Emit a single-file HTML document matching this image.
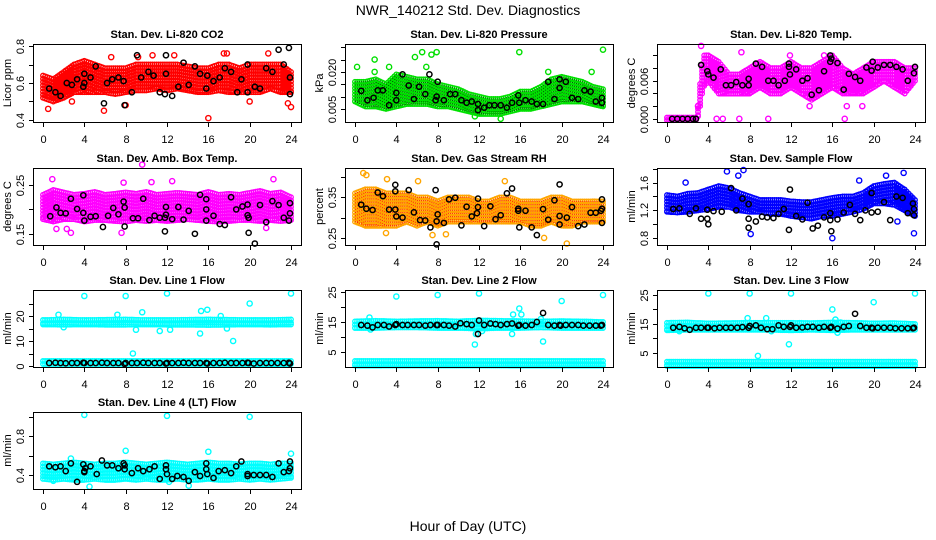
<!DOCTYPE html>
<html><head><meta charset="utf-8"><title>NWR_140212 Std. Dev. Diagnostics</title>
<style>
html,body{margin:0;padding:0;background:#fff;}
svg{display:block;font-family:"Liberation Sans",Arial,sans-serif;}
</style></head>
<body>
<svg id="chart" width="936" height="540" viewBox="0 0 936 540" xmlns="http://www.w3.org/2000/svg">
<rect width="936" height="540" fill="#fff"/>
<text x="468" y="15" text-anchor="middle" font-size="14">NWR_140212  Std. Dev. Diagnostics</text>
<text x="468" y="531" text-anchor="middle" font-size="14">Hour of Day (UTC)</text>
</svg>
<script>
// ---------- data ----------
const xTicks = [0,4,8,12,16,20,24];

// CO2
const co2Hours = [0,1,2,3,4,5,6,7,8,9,10,11,12,13,14,15,16,17,18,19,20,21,22,23,24];
const co2Lo = [0.52,0.50,0.52,0.55,0.55,0.55,0.55,0.54,0.55,0.56,0.56,0.57,0.56,0.57,0.56,0.55,0.55,0.56,0.55,0.55,0.55,0.55,0.57,0.55,0.55];
const co2Hi = [0.64,0.62,0.66,0.70,0.72,0.70,0.68,0.68,0.68,0.70,0.70,0.70,0.70,0.70,0.69,0.68,0.68,0.70,0.70,0.68,0.70,0.70,0.70,0.70,0.66];
const co2OutX = [0.5,5.9,8,16,24,23.7,6.6,9.2,10.6,12.7,17.5,17.8,21.8,2.8,20];
const co2OutY = [0.46,0.45,0.48,0.41,0.47,0.49,0.74,0.74,0.75,0.75,0.76,0.76,0.76,0.50,0.50];
const co2BlkX = [0.6,1.2,1.7,2.3,2.8,3.3,3.9,4,4,5.1,4.6,5.9,6.2,6.7,7.3,7.8,7.9,8.6,9.1,9.5,10.2,10.7,11.3,11.8,11.9,11.9,12.5,13.1,13.6,14.1,14.7,15.2,15.8,15.9,16.5,17.1,17.6,18.2,18.8,19.2,19.8,19.8,20.5,21,21.6,22.2,22.8,23.3,23.8,23.9,23.9];
const co2BlkY = [0.57,0.55,0.53,0.60,0.59,0.62,0.58,0.65,0.60,0.69,0.63,0.49,0.60,0.62,0.63,0.61,0.48,0.55,0.75,0.63,0.66,0.64,0.55,0.54,0.65,0.75,0.53,0.58,0.71,0.59,0.69,0.65,0.57,0.64,0.61,0.63,0.68,0.66,0.55,0.62,0.55,0.70,0.58,0.57,0.68,0.66,0.78,0.70,0.79,0.63,0.54];

// Pressure
const prHours = [0,1,2,3,4,5,6,7,8,9,10,11,12,13,14,15,16,17,18,19,20,21,22,23,24];
const prLo = [0.008,0.006,0.006,0.005,0.006,0.007,0.007,0.007,0.006,0.006,0.005,0.004,0.003,0.003,0.003,0.004,0.005,0.005,0.006,0.007,0.008,0.008,0.008,0.007,0.006];
const prHi = [0.016,0.016,0.017,0.015,0.019,0.018,0.017,0.017,0.015,0.014,0.013,0.011,0.010,0.009,0.009,0.010,0.012,0.012,0.014,0.017,0.018,0.017,0.016,0.014,0.013];
const prOutX = [0.2,1.9,3.3,5.8,6.5,7.4,7.9,15.9,24,14.1,11.6,18.7,22.9,6.9,1.9];
const prOutY = [0.022,0.025,0.022,0.026,0.028,0.027,0.028,0.028,0.029,0.001,0.002,0.020,0.020,0.022,0.020];
const prBlkX = [0.6,1.2,1.8,2.2,2.7,3.3,4,4,4.6,5.2,5.7,6.2,6.8,7.2,7.8,7.9,8,8.6,9.2,9.7,10.3,10.8,11.3,11.9,11.9,12.5,13,13.5,14.1,14.7,15.2,15.8,15.9,16.5,17.1,17.6,18.2,18.7,19.3,19.8,19.8,20.4,21,21.6,22.2,22.8,23.3,23.9,23.9];
const prBlkY = [0.0123,0.0085,0.0095,0.0125,0.0125,0.0065,0.0115,0.0085,0.019,0.0145,0.009,0.014,0.011,0.019,0.0085,0.010,0.016,0.0085,0.011,0.011,0.0085,0.0075,0.008,0.007,0.0045,0.0055,0.0065,0.0065,0.0065,0.0055,0.0075,0.0105,0.0075,0.0085,0.008,0.007,0.007,0.016,0.009,0.0135,0.017,0.016,0.0095,0.009,0.0125,0.012,0.008,0.0075,0.0095];

// Li-820 Temp
const ltHours = [0,2.9,3.1,3.5,4,5,6,7,8,9,10,11,12,13,14,15,16,17,18,19,20,21,22,23,24];
const ltLo = [-0.0002,-0.0002,0.001,0.005,0.006,0.004,0.004,0.004,0.004,0.005,0.004,0.004,0.005,0.004,0.003,0.004,0.005,0.004,0.004,0.004,0.005,0.006,0.005,0.004,0.006];
const ltHi = [0.0002,0.0002,0.004,0.010,0.010,0.009,0.007,0.007,0.008,0.009,0.008,0.008,0.009,0.008,0.008,0.009,0.010,0.008,0.007,0.008,0.009,0.009,0.009,0.008,0.008];
const ltOutX = [3.3,7.2,11.9,15.2,4.8,5.4,7,9.8,17.2,3.0,13.8,17.4,18.9];
const ltOutY = [0.0115,0.0105,0.0100,0.0100,0,0,0,0,0,0.002,0.002,0.002,0.002];
const ltBlkX = [0.5,1,1.5,2,2.5,2.8,3.3,3.9,4,4.5,5.2,5.7,6.2,6.7,7.3,7.9,7.9,8.6,9.2,9.8,10.3,10.8,11.4,11.8,11.9,11.8,12.5,13.1,13.6,14,14.7,15.2,15.8,15.9,15.8,16.5,17.1,17.6,18.2,18.7,19.3,19.8,19.9,20.4,21,21.6,22.2,22.8,23.3,23.9,24];
const ltBlkY = [0,0,0,0,0,0,0.0085,0.0075,0.007,0.0065,0.0078,0.0053,0.0053,0.0058,0.0053,0.0063,0.0053,0.0087,0.0082,0.006,0.006,0.0053,0.006,0.0087,0.0070,0.0082,0.0078,0.006,0.0064,0.0038,0.0045,0.0075,0.010,0.0095,0.009,0.0088,0.0046,0.0071,0.0066,0.0060,0.0081,0.0076,0.0090,0.0081,0.0085,0.0085,0.0082,0.0078,0.006,0.0072,0.0082];

// Amb Box Temp
const abHours = [0,1,2,3,4,5,6,7,8,9,10,11,12,13,14,15,16,17,18,19,20,21,22,23,24];
const abLo = [0.180,0.175,0.180,0.180,0.175,0.178,0.178,0.176,0.175,0.178,0.176,0.178,0.176,0.178,0.180,0.178,0.176,0.175,0.176,0.178,0.178,0.176,0.178,0.176,0.178];
const abHi = [0.230,0.240,0.235,0.230,0.232,0.236,0.230,0.232,0.235,0.232,0.236,0.230,0.232,0.234,0.232,0.230,0.236,0.230,0.232,0.230,0.234,0.238,0.232,0.235,0.225];
const abOutX = [0.9,9.6,12.5,22.3,1.3,2.3,2.7,7.6,21.6,7.8,10.5];
const abOutY = [0.262,0.292,0.258,0.262,0.160,0.160,0.152,0.152,0.162,0.255,0.256];
const abBlkX = [0.7,1.3,1.7,2.2,2.7,3.3,3.9,3.9,4,4.6,5.1,5.8,6.3,6.8,7.3,7.8,7.9,7.9,8.7,9.2,9.7,10.3,10.8,11.3,11.8,11.8,11.9,11.9,12.5,13.1,13.6,14.1,14.7,15.2,15.8,15.8,15.8,16.5,17.1,17.6,18.2,18.7,19.3,19.8,19.8,19.9,19.9,20.5,21,21.6,22.2,22.8,23.3,23.8,23.9,23.9];
const abBlkY = [0.186,0.204,0.193,0.192,0.222,0.201,0.229,0.193,0.177,0.185,0.186,0.164,0.187,0.203,0.190,0.216,0.165,0.204,0.182,0.182,0.222,0.178,0.187,0.183,0.155,0.183,0.189,0.205,0.180,0.205,0.179,0.197,0.150,0.230,0.221,0.200,0.177,0.187,0.170,0.168,0.225,0.200,0.206,0.210,0.188,0.152,0.183,0.130,0.209,0.174,0.217,0.209,0.183,0.177,0.213,0.192];

// Gas Stream RH
const rhHours = [0,1,2,3,4,5,6,7,8,9,10,11,12,13,14,15,16,17,18,19,20,21,22,23,24];
const rhLo = [0.29,0.28,0.28,0.28,0.28,0.29,0.28,0.29,0.28,0.29,0.29,0.29,0.29,0.29,0.29,0.29,0.29,0.28,0.28,0.29,0.28,0.28,0.29,0.29,0.29];
const rhHi = [0.36,0.37,0.37,0.36,0.36,0.36,0.35,0.35,0.34,0.35,0.35,0.35,0.34,0.34,0.35,0.35,0.34,0.34,0.34,0.35,0.35,0.34,0.34,0.34,0.34];
const rhOutX = [0.8,1.1,3.1,3.0,7.5,8.8,14.5,18.3,20.5,6.1];
const rhOutY = [0.410,0.405,0.395,0.262,0.257,0.259,0.390,0.250,0.236,0.390];
const rhBlkX = [0.6,1.1,1.7,2.2,2.7,3.3,3.9,3.9,3.9,4,4.6,5.2,5.7,6.3,6.8,7.3,7.8,7.9,8,7.9,8.6,9.1,9.7,10.3,10.8,11.3,11.8,11.9,11.9,12.5,13.1,13.6,14.1,14.7,15.2,15.8,15.8,15.9,16.5,17.1,17.6,18.2,18.7,19.3,19.8,19.8,19.8,20.5,21,21.6,22.2,22.8,23.3,23.8,23.9,23.9,23.9];
const rhBlkY = [0.332,0.322,0.319,0.362,0.353,0.320,0.381,0.365,0.320,0.303,0.300,0.368,0.313,0.294,0.293,0.276,0.368,0.291,0.308,0.234,0.287,0.345,0.349,0.281,0.327,0.303,0.311,0.326,0.347,0.279,0.328,0.296,0.306,0.360,0.372,0.322,0.317,0.276,0.317,0.276,0.257,0.321,0.295,0.343,0.304,0.382,0.283,0.300,0.326,0.279,0.283,0.312,0.312,0.317,0.322,0.345,0.287];

// Sample Flow
const sfHours = [0,1,2,3,4,5,6,7,8,9,10,11,12,13,14,15,16,17,18,19,20,21,22,23,24];
const sfLo = [1.18,1.17,1.18,1.20,1.22,1.25,1.25,1.20,1.18,1.18,1.15,1.15,1.12,1.10,1.08,1.12,1.12,1.15,1.18,1.22,1.30,1.30,1.28,1.20,1.12];
const sfHi = [1.42,1.40,1.44,1.45,1.50,1.55,1.52,1.45,1.40,1.35,1.35,1.35,1.33,1.32,1.32,1.35,1.38,1.40,1.40,1.45,1.55,1.58,1.60,1.50,1.35];
const sfOutX = [5.8,6.9,7.4,21.2,22.9,8.1,16,23.9,22.3,1.8,18.6];
const sfOutY = [1.76,1.70,1.78,1.70,1.74,0.86,0.80,0.87,1.04,1.60,1.63];
const sfBlkX = [0.6,1.2,2.2,2.8,3.3,3.9,3.9,4,4.5,5.3,6.2,6.7,7.3,7.9,7.9,7.9,8.6,9.2,9.7,10.3,10.8,11.3,11.8,11.9,12.5,13.1,13.6,14.1,14.6,15.2,15.8,15.8,15.9,16.5,17.1,17.7,18.2,18.7,19.2,19.8,19.8,20.4,21,21.6,22.2,22.8,23.3,23.8,23.9,23.9];
const sfBlkY = [1.22,1.23,1.15,1.23,1.08,1.08,1.21,1.00,1.19,1.18,1.52,1.20,1.37,1.08,0.95,1.29,1.04,1.11,1.10,1.09,1.15,1.22,0.92,1.50,1.12,1.07,1.31,0.94,0.98,1.10,1.16,1.06,0.90,1.07,1.17,1.28,1.15,1.06,1.20,1.45,1.17,1.18,1.32,1.06,1.40,1.38,1.16,1.30,1.22,1.13];

// Line flows (shared hours for bands and black points)
const lfHours = [0,2,4,6,8,10,12,14,16,18,20,22,24];
const lineBlkX = [0.6,1.2,1.7,2.2,2.8,3.3,3.9,4,4.6,5.1,5.7,6.2,6.8,7.3,7.9,8,8.6,9.1,9.7,10.2,10.8,11.3,11.9,12,12.5,13.1,13.6,14.1,14.7,15.2,15.8,15.9,16.5,17.1,17.6,18.2,18.7,19.3,19.8,19.9,20.4,21,21.6,22.1,22.7,23.3,23.8,23.9];

// Line 1
const l1UpLo = [16.6,16.5,16.6,16.5,16.5,16.6,16.5,16.5,16.4,16.5,16.6,16.5,16.6];
const l1UpHi = [18.4,18.6,18.4,18.5,18.6,18.4,18.4,18.5,18.6,18.5,18.4,18.4,18.6];
const l1DnLo = [0.8,0.8,0.8,0.8,0.8,0.8,0.8,0.8,0.8,0.8,0.8,0.8,0.8];
const l1DnHi = [2.0,2.0,2.0,2.0,2.0,2.0,2.0,2.0,2.0,2.0,2.0,2.0,2.0];
const l1OutX = [4,8,12,24,20,15.3,15.9,9.6,7.2,1.5,17.2,18.4,8.7,9,11.3,12.3,15.2,17.8,2];
const l1OutY = [28,28,29,29,25,22,22.5,21.5,20.5,20.5,20,10,5,14.5,14,14.5,13,15,15.5];
const l1BlkY = [1.2,1.3,1.2,1.1,1.2,1.2,1.3,1.2,1.2,1.2,1.3,1.2,1.2,1.2,0.8,1.2,1.2,1.2,1.3,1.2,1.2,1.2,1.0,1.2,1.2,1.2,1.3,1.2,1.2,1.2,1.2,1.0,1.2,1.2,1.3,1.2,1.2,1.2,1.3,1.2,1.0,1.2,1.2,1.2,1.2,1.2,1.3,1.0];

// Line 2
const l2UpLo = [13.0,13.0,13.2,13.2,13.0,13.0,12.8,13.0,13.0,13.2,13.0,13.0,13.0];
const l2UpHi = [15.2,15.4,15.2,15.3,15.4,15.2,15.5,15.4,15.3,15.2,15.3,15.2,15.0];
const l2DnLo = [0.5,0.5,0.5,0.5,0.5,0.5,0.5,0.5,0.5,0.5,0.5,0.5,0.5];
const l2DnHi = [2.0,2.0,2.0,2.0,2.0,2.0,2.0,2.0,2.0,2.0,2.0,2.0,2.0];
const l2OutX = [4,8,12,24,20,1.4,15.9,16.1,15.3,11.6,15.2,18.2,11.7,12.3,1.5,18.0];
const l2OutY = [23.5,24,24.5,24,22,16.5,19.5,17.5,17.5,7.5,11,8.5,11,12,12.5,16];
const l2BlkY = [14,13.8,13.2,14,14,13.5,14,14.3,14,14,14,14,13.8,14,14,14,14,13.8,13.5,14.6,14.3,14,11,15.5,14,14.5,14.3,14,14.3,14.5,13.8,14,13.8,14,15,18,14,13.8,14,13.8,14,14,14,13.8,13.8,13.8,13.8,14];

// Line 3
const l3UpLo = [12.8,13.0,13.0,13.0,13.0,13.0,12.8,13.0,12.8,13.0,13.0,13.0,13.0];
const l3UpHi = [15.4,15.5,15.2,15.3,15.4,15.4,15.4,15.3,15.5,15.4,15.2,15.3,15.0];
const l3DnLo = [0.5,0.5,0.5,0.5,0.5,0.5,0.5,0.5,0.5,0.5,0.5,0.5,0.5];
const l3DnHi = [2.0,2.0,2.0,2.0,2.0,2.0,2.0,2.0,2.0,2.0,2.0,2.0,2.0];
const l3OutX = [4,8,12,24,20,16,7.8,9.6,16.3,11.8,8.8,10.1,16.5,1.2,16.8];
const l3OutY = [25.5,25.5,25.5,25.5,22.5,20,17,17,16.5,8,4,12.5,12,12.5,15.5];
const l3BlkY = [13.7,14,13.5,13,13.7,13.7,13.7,13.7,13.5,13.7,13.7,13.7,13.7,13.9,13.7,14.3,14.5,13.7,13.2,13.2,14.5,14,14,14.5,13.7,13.8,14,14,13.7,14,13.7,14,13.4,14,14.3,18.5,14.3,13.7,13.7,13.5,13.7,13.7,13.7,13.5,13.5,13.5,13.5,13.7];

// Line 4
const l4Hours = [0,1,2,3,4,5,6,7,8,9,10,11,12,13,14,15,16,17,18,19,20,21,22,23,24];
const l4Lo = [0.36,0.35,0.36,0.35,0.35,0.36,0.35,0.35,0.36,0.35,0.36,0.35,0.35,0.36,0.35,0.35,0.36,0.35,0.35,0.36,0.35,0.36,0.35,0.36,0.37];
const l4Hi = [0.52,0.51,0.52,0.53,0.52,0.51,0.52,0.52,0.53,0.52,0.51,0.52,0.53,0.52,0.51,0.52,0.53,0.52,0.52,0.51,0.52,0.52,0.51,0.52,0.52];
const l4OutX = [4,12,20,8,16,24,2.7,4.5,14.1,1,12.2];
const l4OutY = [1.02,1.01,1.00,0.65,0.64,0.62,0.57,0.28,0.29,0.34,0.33];
const l4BlkX = [0.6,1.2,1.7,2.2,2.7,3.3,3.9,4,4,4.1,4.6,5.2,5.7,6.2,6.7,7.3,7.8,7.9,7.9,8.6,9.2,9.7,10.3,10.8,11.3,11.9,11.9,12,12.5,13,13.6,14.1,14.7,15.2,15.8,15.8,15.9,16.5,17,17.6,18.2,18.7,19.2,19.8,19.8,20.4,21,21.6,22.2,22.8,23.3,23.8,23.9,23.9];
const l4BlkY = [0.49,0.48,0.49,0.44,0.52,0.33,0.51,0.44,0.43,0.47,0.49,0.41,0.55,0.50,0.50,0.47,0.52,0.50,0.46,0.42,0.47,0.44,0.46,0.49,0.36,0.50,0.46,0.41,0.36,0.39,0.38,0.34,0.43,0.39,0.52,0.46,0.41,0.37,0.44,0.45,0.42,0.49,0.54,0.41,0.39,0.40,0.40,0.40,0.38,0.52,0.43,0.44,0.54,0.47];

// ---------- drawing ----------
const NS = 'http://www.w3.org/2000/svg';
const svg = document.getElementById('chart');
const W = 268;
function mk(tag, attrs, parent){
  const e = document.createElementNS(NS, tag);
  for (const k in attrs) e.setAttribute(k, attrs[k]);
  parent.appendChild(e);
  return e;
}
function interp(hs, vs, h){
  for (let i=0;i<hs.length-1;i++){
    if (h>=hs[i] && h<=hs[i+1]){
      const t = (h-hs[i])/(hs[i+1]-hs[i]);
      return vs[i]+t*(vs[i+1]-vs[i]);
    }
  }
  return vs[vs.length-1];
}

function panel(p){
  const g = mk('g', {}, svg);
  
  
  const L = p.left, T = p.top, B = p.bottom;
  const xs = h => L + 10 + h*(W-20)/24;
  const ys = v => T + (p.dom[1]-v)/(p.dom[1]-p.dom[0])*(B-T);

  // clouds
  p.bands.forEach(bd => {
    let d = '', sd = '';
    const h0 = bd.h[0], h1 = bd.h[bd.h.length-1];
    for (let h=h0; h<=h1+1e-9; h+=0.2){
      const lo = ys(interp(bd.h, bd.lo, h)), hi = ys(interp(bd.h, bd.hi, h));
      const x = xs(h);
      const ysList = [];
      for (let y=hi; y<lo; y+=3.2) ysList.push(y);
      ysList.push(lo);
      ysList.forEach(y => {
        d += `M${(x-2.3).toFixed(1)},${y.toFixed(1)}a2.3,2.3 0 1,0 4.6,0a2.3,2.3 0 1,0 -4.6,0`;
        if (p.speck) sd += `M${x.toFixed(1)},${(y-0.5).toFixed(1)}h1v1h-1z`;
      });
    }
    const path = mk('path', {d:d, fill:'none', stroke:p.color, 'stroke-width':1.3}, g);
    
    
    if (p.speck){
      const sp = mk('path', {d:sd, fill:p.speck, opacity:0.8}, g);
      
      
    }
  });
  // colored outliers
  p.outX.forEach((h,i) => {
    const c = mk('circle', {cx:xs(h), cy:ys(p.outY[i]), r:2.6, fill:'none', stroke:p.color, 'stroke-width':1.4}, g);
    
    
  });
  // black points
  p.blkX.forEach((h,i) => {
    const c = mk('circle', {cx:xs(h), cy:ys(p.blkY[i]), r:2.6, fill:'none', stroke:'#000', 'stroke-width':1.5}, g);
    
    
  });
  // box
  const box = mk('rect', {x:L+0.5, y:T+0.5, width:W, height:B-T, fill:'none', stroke:'#000', 'stroke-width':1}, g);
  
  
  // title
  const tt = mk('text', {x:L+W/2, y:T-6, 'text-anchor':'middle', 'font-size':11, 'font-weight':'bold'}, g);
  tt.textContent = p.title;
  
  
  // x axis
  xTicks.forEach(h => {
    const x = Math.round(xs(h))+0.5;
    const tk = mk('line', {x1:x, x2:x, y1:B+0.5, y2:B+5, stroke:'#000'}, g);
    
    
    const lb = mk('text', {x:x, y:B+21, 'text-anchor':'middle', 'font-size':11}, g);
    lb.textContent = h;
    
    
  });
  // y axis
  p.ticks.forEach((v,i) => {
    const y = Math.round(ys(v))+0.5;
    const tk = mk('line', {x1:L-4, x2:L+0.5, y1:y, y2:y, stroke:'#000'}, g);
    
    
    if (p.labels[i] !== ''){
      const lb = mk('text', {x:0, y:0, 'text-anchor':'middle', 'font-size':11, transform:`translate(${L-9},${y}) rotate(-90)`}, g);
      lb.textContent = p.labels[i];
      
      
    }
  });
  const yl = mk('text', {x:0, y:0, 'text-anchor':'middle', 'font-size':11, transform:`translate(${L-22},${(T+B)/2}) rotate(-90)`}, g);
  yl.textContent = p.ylab;
  
  
}

const C1 = 33, C2 = 345, C3 = 657;
const R = [[44,122],[168,245],[290,367],[412,489]];
const cyan = '#00ffff';

panel({name:'panel-co2', left:C1, top:R[0][0], bottom:R[0][1], title:'Stan. Dev. Li-820 CO2', ylab:'Licor ppm', color:'#ff0000',
  dom:[0.389,0.811], ticks:[0.4,0.5,0.6,0.7,0.8], labels:['0.4','','0.6','','0.8'],
  bands:[{h:co2Hours, lo:co2Lo, hi:co2Hi}], outX:co2OutX, outY:co2OutY, blkX:co2BlkX, blkY:co2BlkY});
panel({name:'panel-pressure', left:C2, top:R[0][0], bottom:R[0][1], title:'Stan. Dev. Li-820 Pressure', ylab:'kPa', color:'#00e000', speck:'#003300',
  dom:[-0.0003,0.0313], ticks:[0.005,0.010,0.015,0.020,0.025,0.030], labels:['0.005','','','0.020','',''],
  bands:[{h:prHours, lo:prLo, hi:prHi}], outX:prOutX, outY:prOutY, blkX:prBlkX, blkY:prBlkY});
panel({name:'panel-li820-temp', left:C3, top:R[0][0], bottom:R[0][1], title:'Stan. Dev. Li-820 Temp.', ylab:'degrees C', color:'#ff00ff',
  dom:[-0.0005,0.0118], ticks:[0,0.002,0.004,0.006,0.008,0.010], labels:['0.000','','','0.006','',''],
  bands:[{h:ltHours, lo:ltLo, hi:ltHi}], outX:ltOutX, outY:ltOutY, blkX:ltBlkX, blkY:ltBlkY});

panel({name:'panel-amb-box-temp', left:C1, top:R[1][0], bottom:R[1][1], title:'Stan. Dev. Amb. Box Temp.', ylab:'degrees C', color:'#ff00ff',
  dom:[0.127,0.285], ticks:[0.15,0.20,0.25], labels:['0.15','','0.25'],
  bands:[{h:abHours, lo:abLo, hi:abHi}], outX:abOutX, outY:abOutY, blkX:abBlkX, blkY:abBlkY});
panel({name:'panel-gas-rh', left:C2, top:R[1][0], bottom:R[1][1], title:'Stan. Dev. Gas Stream RH', ylab:'percent', color:'#ffa500', speck:'#ff0000',
  dom:[0.2325,0.4225], ticks:[0.25,0.30,0.35,0.40], labels:['0.25','','0.35',''],
  bands:[{h:rhHours, lo:rhLo, hi:rhHi}], outX:rhOutX, outY:rhOutY, blkX:rhBlkX, blkY:rhBlkY});
panel({name:'panel-sample-flow', left:C3, top:R[1][0], bottom:R[1][1], title:'Stan. Dev. Sample Flow', ylab:'ml/min', color:'#0000ff',
  dom:[0.702,1.81], ticks:[0.8,1.0,1.2,1.4,1.6,1.8], labels:['0.8','','1.2','','1.6',''],
  bands:[{h:sfHours, lo:sfLo, hi:sfHi}], outX:sfOutX, outY:sfOutY, blkX:sfBlkX, blkY:sfBlkY});

panel({name:'panel-line1-flow', left:C1, top:R[2][0], bottom:R[2][1], title:'Stan. Dev. Line 1 Flow', ylab:'ml/min', color:cyan,
  dom:[-0.4,30.4], ticks:[0,5,10,15,20,25], labels:['0','','10','','20',''],
  bands:[{h:lfHours, lo:l1UpLo, hi:l1UpHi},{h:lfHours, lo:l1DnLo, hi:l1DnHi}], outX:l1OutX, outY:l1OutY, blkX:lineBlkX, blkY:l1BlkY});
panel({name:'panel-line2-flow', left:C2, top:R[2][0], bottom:R[2][1], title:'Stan. Dev. Line 2 Flow', ylab:'ml/min', color:cyan,
  dom:[0,25.67], ticks:[5,10,15,20,25], labels:['5','','15','','25'],
  bands:[{h:lfHours, lo:l2UpLo, hi:l2UpHi},{h:lfHours, lo:l2DnLo, hi:l2DnHi}], outX:l2OutX, outY:l2OutY, blkX:lineBlkX, blkY:l2BlkY});
panel({name:'panel-line3-flow', left:C3, top:R[2][0], bottom:R[2][1], title:'Stan. Dev. Line 3 Flow', ylab:'ml/min', color:cyan,
  dom:[0.17,26.7], ticks:[5,10,15,20,25], labels:['5','','15','','25'],
  bands:[{h:lfHours, lo:l3UpLo, hi:l3UpHi},{h:lfHours, lo:l3DnLo, hi:l3DnHi}], outX:l3OutX, outY:l3OutY, blkX:lineBlkX, blkY:l3BlkY});

panel({name:'panel-line4-flow', left:C1, top:R[3][0], bottom:R[3][1], title:'Stan. Dev. Line 4 (LT) Flow', ylab:'ml/min', color:cyan,
  dom:[0.256,1.05], ticks:[0.4,0.6,0.8,1.0], labels:['0.4','','0.8',''],
  bands:[{h:l4Hours, lo:l4Lo, hi:l4Hi}], outX:l4OutX, outY:l4OutY, blkX:l4BlkX, blkY:l4BlkY});
</script>
</body></html>
